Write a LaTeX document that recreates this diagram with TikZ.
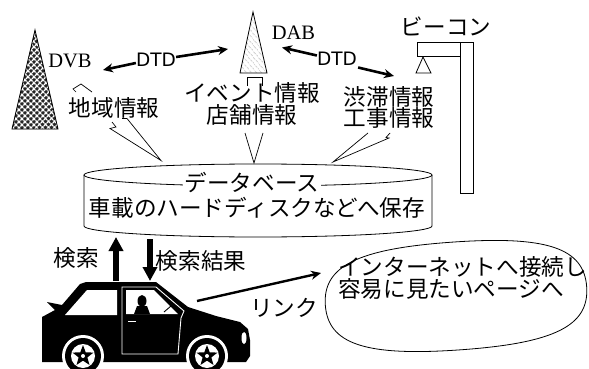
\documentclass[tikz,border=0pt]{standalone}
\usepackage{fontspec}
\newfontfamily\jpfont{Noto Sans CJK JP}
\newfontfamily\latinsans{DejaVu Sans}
\newfontfamily\latinserif{Liberation Serif}
\usetikzlibrary{arrows.meta,patterns,patterns.meta,shapes.geometric}

\begin{document}
\begin{tikzpicture}[x=1pt,y=-1pt,
  jtext/.style={font=\jpfont\fontsize{22.6}{21.5}\selectfont, inner sep=0pt, align=center},
  ltext/.style={font=\latinsans\fontsize{18.5}{20}\selectfont, inner sep=0pt},
  stext/.style={font=\latinserif\fontsize{20.5}{22}\selectfont, inner sep=0pt, anchor=base},
  thickarrow/.style={line width=2.6pt, -{Stealth[length=10pt,width=9pt]}},
  bigarrow/.style={line width=6pt, -{Triangle[length=14pt,width=14pt]}},
  bolt/.style={line width=0.7pt, line join=miter},
  thinline/.style={line width=0.8pt}
]
\useasboundingbox (0,0) rectangle (589,369);

% ---- DVB transmitter tower ----
\fill[black!85] (35,30) -- (12,129) -- (58,129) -- cycle;
\fill[pattern={Lines[angle=45,distance=4pt,line width=1.5pt]}, pattern color=white]
  (35,30) -- (12,129) -- (58,129) -- cycle;
\fill[pattern={Lines[angle=-45,distance=4pt,line width=1.5pt]}, pattern color=white]
  (35,30) -- (12,129) -- (58,129) -- cycle;
\draw[thinline] (35,30) -- (12,129) -- (58,129) -- cycle;
\node[stext] (dvb) at (70,68) {DVB};

% ---- DAB transmitter tower ----
\fill[white] (253,12) -- (240,73) -- (267,73) -- cycle;
\fill[pattern={Lines[angle=-50,distance=4pt,line width=0.5pt]}, pattern color=gray]
  (253,12) -- (240,73) -- (267,73) -- cycle;
\draw[thinline] (253,12) -- (240,73) -- (267,73) -- cycle;
\draw[thinline] (247,86) -- (247,77) -- (262,77) -- (262,86);
\node[stext] (dab) at (293.5,40) {DAB};

% ---- beacon ----
\node[jtext] (beacon) at (446,26.5) {ビーコン};
\draw[thinline] (417,42) rectangle (460,56);
\draw[thinline] (460,42) rectangle (473,193);
\draw[thinline] (423,57) -- (416,73) -- (431,73) -- cycle;

% ---- DTD links ----
\node[ltext] (dtd1) at (156,60) {DTD};
\node[ltext] (dtd2) at (337,58.5) {DTD};
\coordinate (dvbin) at (103,70);
\coordinate (dabinl) at (228,49);
\coordinate (dabinr) at (282,47.5);
\coordinate (beaconin) at (394,76);
\draw[thickarrow] ([yshift=-3pt]dtd1.west) -- (dvbin);
\draw[thickarrow] ([yshift=3pt]dtd1.east) -- (dabinl);
\draw[thickarrow] ([yshift=3pt]dtd2.west) -- (dabinr);
\draw[thickarrow] ([xshift=1pt,yshift=-9pt]dtd2.east) -- (beaconin);

% ---- broadcast contents ----
\node[jtext] (area) at (114,107.5) {地域情報};
\node[jtext] (event) at (252,104) {イベント情報\\店舗情報};
\node[jtext] (traffic) at (389,107.5) {渋滞情報\\工事情報};

% ---- lightning bolts down to the database ----
\draw[bolt] (76,92) -- (73,89) -- (81,84) -- (92,92);
\draw[bolt] (112,122) -- (116,127) -- (110,128.5) -- (161,160.5) -- (127,118.5) -- (122,118.5);
\draw[bolt] (245,133) -- (254,163) -- (263,133);
\draw[bolt] (368,133) -- (333,162) -- (389,138) -- (386,137.5) -- (390,133);

% ---- database cylinder ----
\fill[white] (84,175) -- (84,226) arc[start angle=180, end angle=0, x radius=174, y radius=11] -- (432,175) -- cycle;
\draw[thinline] (84,175) -- (84,226) arc[start angle=180, end angle=0, x radius=174, y radius=11] -- (432,175);
\draw[thinline] (258,175) ellipse[x radius=174, y radius=11];
\node[jtext, fill=white, inner xsep=1.5pt] (db) at (252,183) {データベース};
\node[jtext] (dbsub) at (257,208) {車載のハードディスクなどへ保存};

% ---- search arrows ----
\coordinate (carup) at (116,281);
\coordinate (dbup) at (116,237);
\coordinate (dbdown) at (150,239);
\coordinate (cardown) at (150,281);
\draw[bigarrow] (carup) -- (dbup);
\draw[bigarrow] (dbdown) -- (cardown);
\node[jtext] (search) at (76,257.5) {検索};
\node[jtext] (result) at (201,261) {検索結果};

% ---- car ----
\fill[black] (42,362) -- (42,317) -- (55,310) -- (47,302) -- (62,305) -- (80,284)
  -- (86,282) -- (156,282) -- (188,307) -- (216,316) -- (240,322) -- (248,329)
  -- (250,340) -- (250,356) -- (246,362) -- cycle;
\fill[white] (65,315) -- (87,290) -- (117,290) -- (117,315) -- cycle;
\fill[white] (126,290) -- (154,290) -- (178,314) -- (126,314) -- cycle;
\fill[black] (142,301) ellipse[x radius=4.5, y radius=6];
\fill[black] (137,306) -- (147,306) -- (150,314) -- (134,314) -- cycle;
\draw[line width=0.9pt] (164,312) -- (171,306);
\draw[white, line width=0.9pt] (122,287) -- (156,287) -- (184,311) -- (181,318) -- (178,354) -- (122,354) -- cycle;
\draw[white, line width=1pt] (128,321) -- (136,321);
\fill[white] (244,338) ellipse[x radius=2.5, y radius=6];
\foreach \wx in {83,207} {
  \fill[white] (\wx,356) circle[radius=21];
  \fill[black] (\wx,356) circle[radius=18];
  \fill[white] (\wx,356) circle[radius=12];
  \node[star, star points=5, star point ratio=2.4, fill=black, inner sep=0pt,
        minimum size=22pt] at (\wx,356) {};
  \fill[white] (\wx,356) circle[radius=2];
}
\coordinate (carfront) at (197,301);

% ---- internet link: a slightly tilted, full-bodied oval ----
\begin{scope}[rotate around={4:(456,296)}]
  \draw[thinline] (587,296) .. controls (587,257) and (551,242) .. (456,242)
    .. controls (361,242) and (325,257) .. (325,296)
    .. controls (325,335) and (361,350) .. (456,350)
    .. controls (551,350) and (587,335) .. (587,296) -- cycle;
\end{scope}
\node[jtext, align=left, anchor=west] (nettext) at (338,278) {インターネットへ接続し\\容易に見たいページへ};
\coordinate (netin) at (321,273);
\draw[line width=2.4pt, -{Stealth[length=10pt,width=9pt]}] (carfront) -- (netin);
\node[jtext] (link) at (284,307.5) {リンク};

\end{tikzpicture}
\end{document}
